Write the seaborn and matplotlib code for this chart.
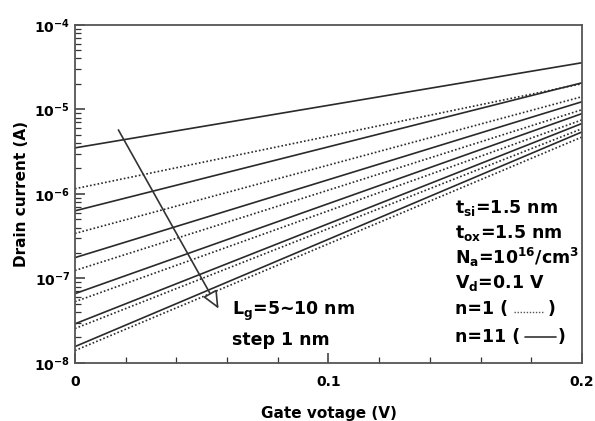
import pandas as pd
import seaborn as sns
import matplotlib.pyplot as plt
from matplotlib.ticker import LogLocator, MultipleLocator, FixedLocator, NullFormatter, LogFormatterMathtext

# drain current at Vg = 0 V and Vg = 0.2 V
gate_v = [0.0, 0.2]
gate_lengths = [5, 6, 7, 8, 9, 10]
id_n11_start = [3.5e-6, 6.3e-7, 1.76e-7, 6.6e-8, 2.9e-8, 1.56e-8]
id_n11_end = [3.56e-5, 2.06e-5, 1.23e-5, 8.9e-6, 6.8e-6, 5.4e-6]
id_n1_start = [1.15e-6, 3.4e-7, 1.24e-7, 5.3e-8, 2.55e-8, 1.4e-8]
id_n1_end = [2.01e-5, 1.41e-5, 9.9e-6, 7.5e-6, 5.9e-6, 4.7e-6]

rows = []
for i, lg in enumerate(gate_lengths):
    for n, start, end in [('n=11', id_n11_start, id_n11_end), ('n=1', id_n1_start, id_n1_end)]:
        rows.append({'Lg': lg, 'n': n, 'Vg': gate_v[0], 'Id': start[i]})
        rows.append({'Lg': lg, 'n': n, 'Vg': gate_v[1], 'Id': end[i]})
df = pd.DataFrame(rows)
df['curve'] = df['n'] + '_' + df['Lg'].astype(str)

sns.set_style('ticks')
plt.rcParams['font.family'] = ['DejaVu Sans']
plt.rcParams['font.weight'] = 'bold'
plt.rcParams['mathtext.fontset'] = 'dejavusans'
plt.rcParams['mathtext.default'] = 'bf'
plt.rcParams['text.color'] = 'black'
plt.rcParams['axes.labelcolor'] = 'black'

fig = plt.figure(figsize=(5.95, 4.21), dpi=100)
ax = fig.add_axes([0.126, 0.138, 0.852, 0.803])
ax.set_yscale('log')

sns.lineplot(data=df, x='Vg', y='Id', units='curve', style='n', estimator=None,
             dashes={'n=11': '', 'n=1': (1, 1.3)}, color='#2a2a2a', linewidth=1.2,
             legend=False, ax=ax)

ax.set_xlim(0, 0.2)
ax.set_ylim(1e-8, 1e-4)
ax.xaxis.set_major_locator(FixedLocator([0, 0.1, 0.2]))
ax.set_xticklabels(['0', '0.1', '0.2'])
ax.xaxis.set_minor_locator(MultipleLocator(0.02))
ax.yaxis.set_major_locator(LogLocator(base=10, numticks=10))
ax.yaxis.set_major_formatter(LogFormatterMathtext())
ax.yaxis.set_minor_locator(LogLocator(base=10, subs=range(2, 10), numticks=20))
ax.yaxis.set_minor_formatter(NullFormatter())
ax.tick_params(which='both', direction='in', colors='#333333', labelcolor='black', labelsize=10)
ax.tick_params(which='major', length=7, width=1.1)
ax.tick_params(which='minor', length=4, width=0.9)
ax.tick_params(axis='x', pad=9)
for s in ax.spines.values():
    s.set_color('#555555')
    s.set_linewidth(1.3)

ax.set_xlabel('Gate votage (V)', fontsize=11, fontweight='bold', labelpad=12)
ax.set_ylabel('Drain current (A)', fontsize=11, fontweight='bold', labelpad=4)

ax.annotate('', xy=(0.0572, 4.1e-8), xytext=(0.0166, 6.1e-6),
            arrowprops=dict(arrowstyle='-|>,head_length=0.9,head_width=0.4',
                            fc='white', ec='#333333', lw=1.2, mutation_scale=12))

ax.text(0.31, 0.151, r'L$_{g}$=5~10 nm', transform=ax.transAxes, fontsize=12.5, va='center')
ax.text(0.31, 0.068, 'step 1 nm', transform=ax.transAxes, fontsize=12.5, va='center')

info = [r't$_{si}$=1.5 nm', r't$_{ox}$=1.5 nm', r'N$_{a}$=10$^{16}$/cm$^{3}$', r'V$_{d}$=0.1 V',
        'n=1 (', 'n=11 (']
info_y = [0.459, 0.385, 0.312, 0.237, 0.158, 0.077]
for t, y in zip(info, info_y):
    ax.text(0.7495, y, t, transform=ax.transAxes, fontsize=12.5, va='center')
ax.text(0.932, 0.158, ')', transform=ax.transAxes, fontsize=12.5, va='center')
ax.text(0.953, 0.077, ')', transform=ax.transAxes, fontsize=12.5, va='center')

ax.plot([0.866, 0.926], [0.152, 0.152], transform=ax.transAxes, color='#555555',
        linestyle=(0, (1, 1.2)), linewidth=1.0)
ax.plot([0.888, 0.948], [0.077, 0.077], transform=ax.transAxes, color='#333333',
        linewidth=1.2)

fig.savefig('out.png', dpi=100)
